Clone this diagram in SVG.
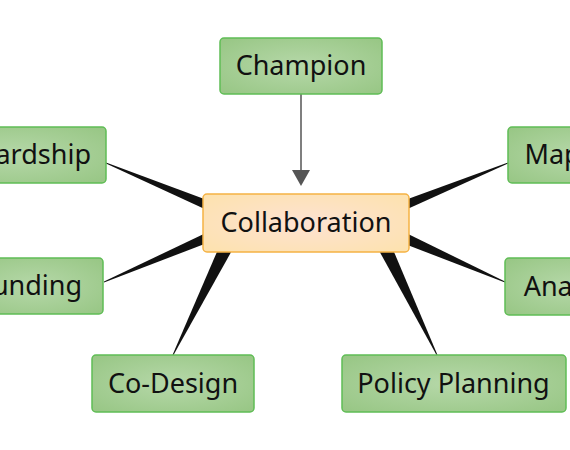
<svg xmlns="http://www.w3.org/2000/svg" width="570" height="450" viewBox="0 0 570 450">
<defs>
<radialGradient id="gGreen" cx="0.5" cy="0.5" r="0.7">
<stop offset="0" stop-color="#b6d8a9"/>
<stop offset="1" stop-color="#97c684"/>
</radialGradient>
<radialGradient id="gOrange" cx="0.5" cy="0.5" r="0.7">
<stop offset="0" stop-color="#fde2d2"/>
<stop offset="1" stop-color="#fde2ad"/>
</radialGradient>
</defs>
<style>
.node rect.g{fill:url(#gGreen);stroke:#5fbd55;stroke-width:1.5}
.node rect.o{fill:url(#gOrange);stroke:#f5b244;stroke-width:1.5}
.node text{font-family:"Noto Sans","Open Sans",sans-serif;font-size:27px;fill:#111;text-anchor:middle}
.wedge{fill:#111}
.arrowline{stroke:#555;stroke-width:1.5;fill:none}
.arrowhead{fill:#555}
</style>
<g id="connectors">
<polygon class="wedge" points="106,162.5 106,163.5 209,211 211,201.5"/>
<polygon class="wedge" points="104,281.5 104,282.5 211,241.5 209,231.5"/>
<polygon class="wedge" points="508,162.5 508,163.5 403,211 401,201.5"/>
<polygon class="wedge" points="505,281.5 505,282.5 401,242.5 403,231.5"/>
<polygon class="wedge" points="172.5,355 173.5,355 234.5,246 219.5,246"/>
<polygon class="wedge" points="436.5,355 437.5,355 391.5,246 376.5,246"/>
<line class="arrowline" x1="301" y1="94" x2="301" y2="172"/>
<polygon class="arrowhead" points="292,170 310,170 301,186"/>
</g>
<g id="node-champion" class="node"><rect class="g" x="220" y="38" width="162" height="56" rx="4"/><text x="301" y="75">Champion</text></g>
<g id="node-stewardship" class="node"><rect class="g" x="-78" y="127" width="184" height="56" rx="4"/><text x="13" y="164">Stewardship</text></g>
<g id="node-mapping" class="node"><rect class="g" x="508" y="127" width="142" height="56" rx="4"/><text x="581" y="164">Mapping</text></g>
<g id="node-funding" class="node"><rect class="g" x="-34" y="258" width="137" height="56" rx="4"/><text x="30" y="295">Funding</text></g>
<g id="node-analysis" class="node"><rect class="g" x="505" y="258" width="134" height="57" rx="4"/><text x="575" y="295.5">Analysis</text></g>
<g id="node-codesign" class="node"><rect class="g" x="92" y="355" width="162" height="57" rx="4"/><text x="173" y="392.5">Co-Design</text></g>
<g id="node-policy" class="node"><rect class="g" x="342" y="355" width="224" height="57" rx="4"/><text x="453.5" y="392.5">Policy Planning</text></g>
<g id="node-collaboration" class="node"><rect class="o" x="203" y="194" width="206" height="58" rx="4"/><text x="306" y="232">Collaboration</text></g>
</svg>
